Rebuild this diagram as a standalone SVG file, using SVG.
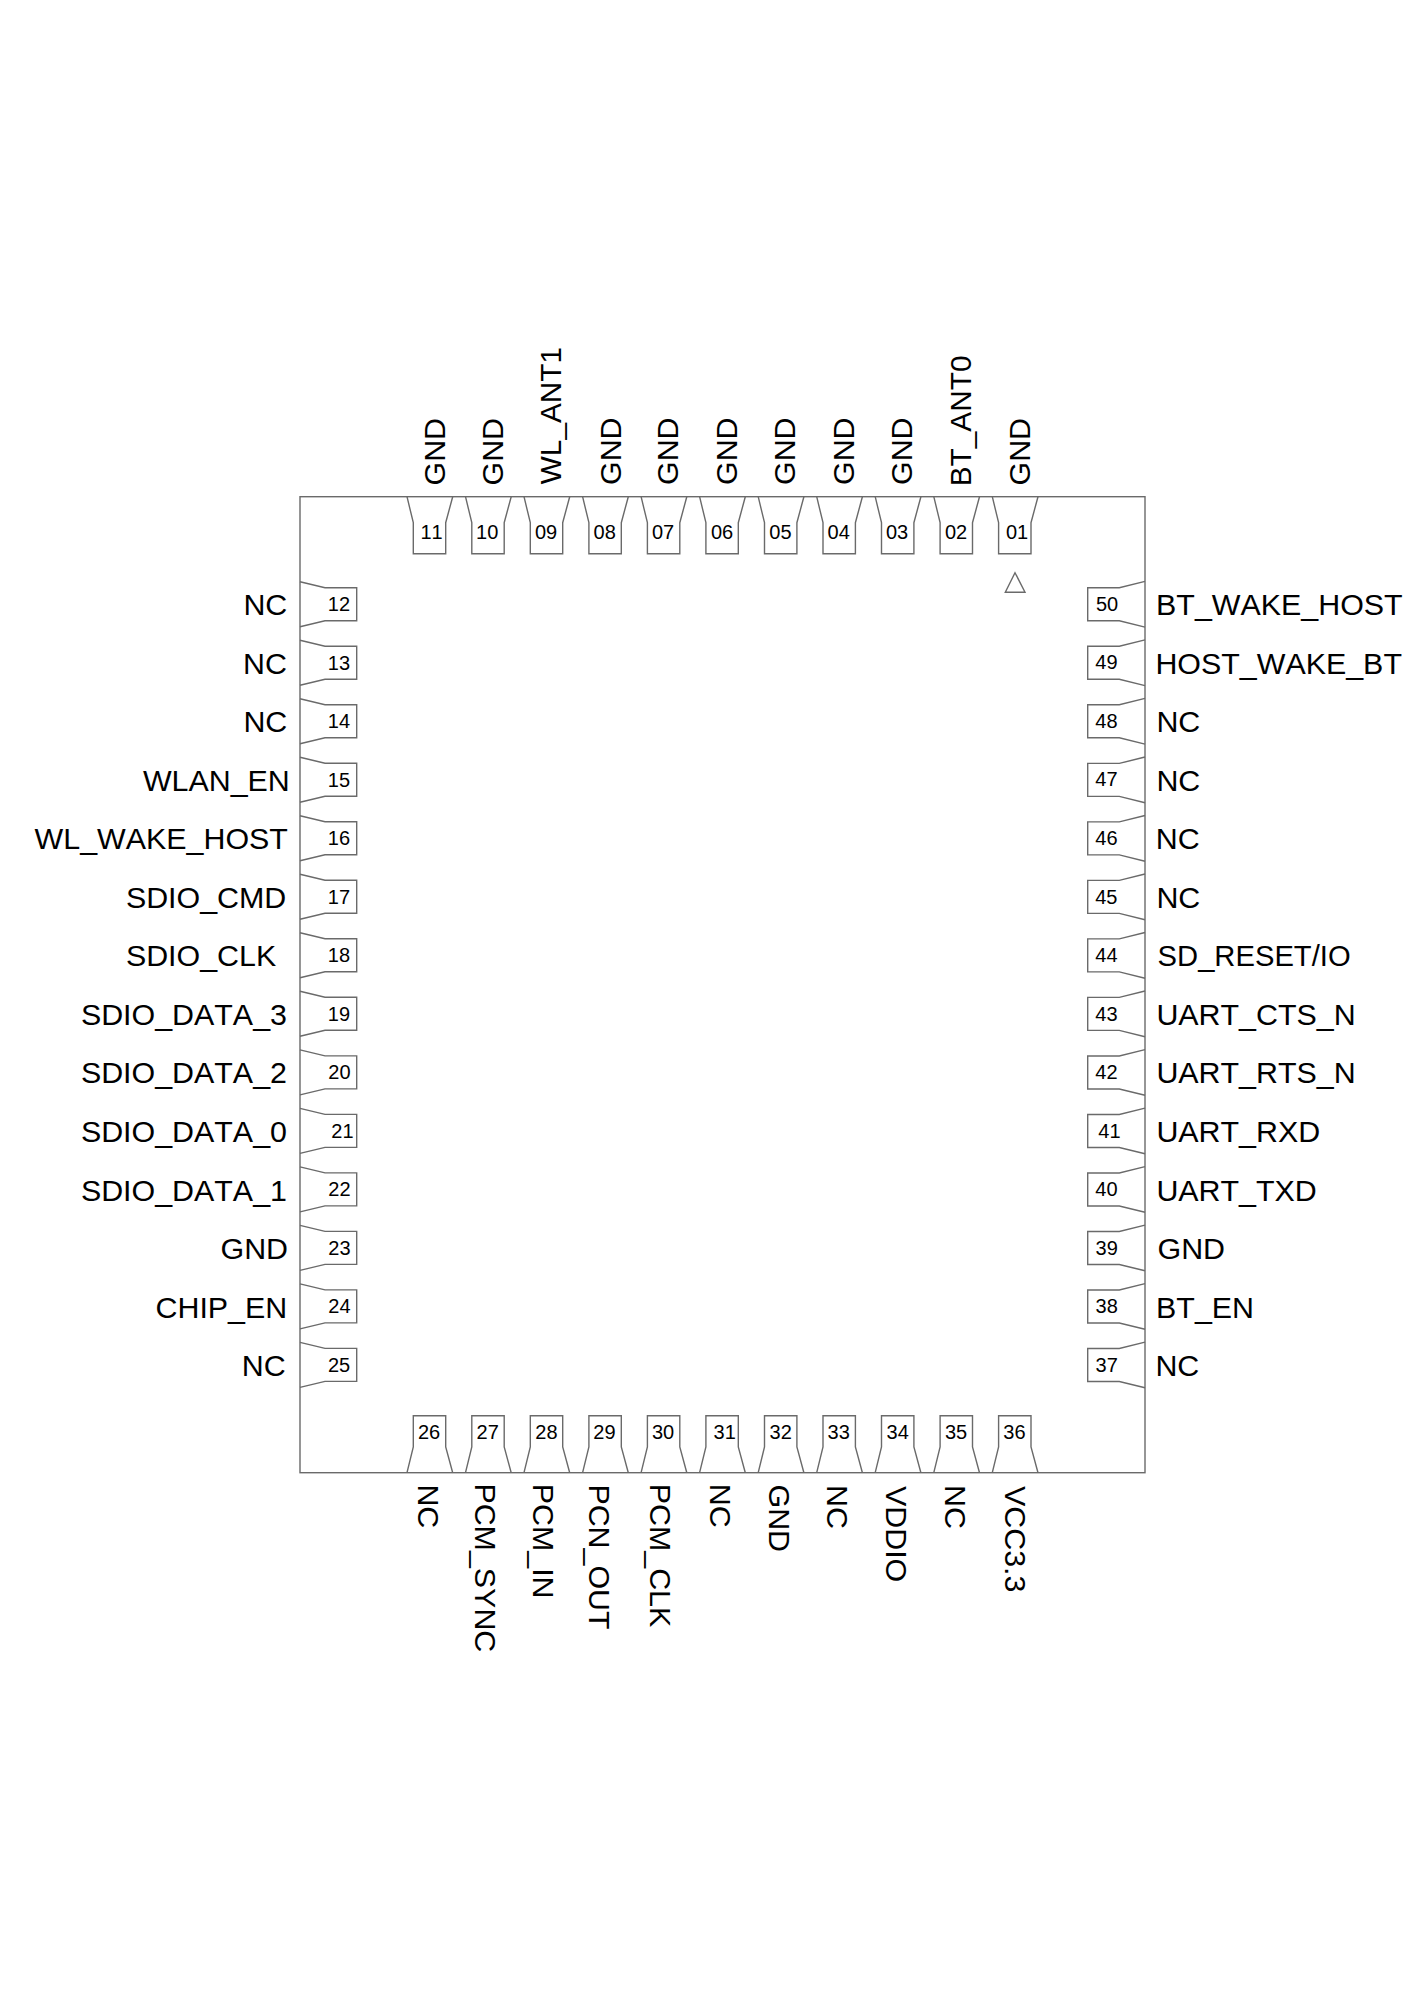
<svg xmlns="http://www.w3.org/2000/svg" xmlns:xlink="http://www.w3.org/1999/xlink" width="1415" height="2000" viewBox="0 0 1415 2000">
<style>
.o{fill:none;stroke:#6a6a6a;stroke-width:1.4}
text{font-family:"Liberation Sans",Arial,sans-serif;fill:#000;font-kerning:none}
.l{font-size:30.4px}
.t{font-size:29.8px}
.n{font-size:20px}
</style>
<defs>
<path id="pt" class="o" d="M0 0L6.3 26V57H38.7V26L45.7 0"/>
<path id="pb" class="o" d="M0 0L6.3 -25.7V-57H38.7V-25.7L45.7 0"/>
<path id="pl" class="o" d="M0 0L25 6H56.7V39H25L0 45"/>
<path id="pr" class="o" d="M0 -.3L-25.7 6.1H-57.3V39.1H-25.7L0 45.4"/>
</defs>
<rect width="1415" height="2000" fill="#fff"/>
<g id="package">
<rect class="o" x="300" y="496.7" width="845" height="976"/>
<path id="pin1-mark" class="o" d="M1015 572.7L1025 592.3H1005.3Z"/>
</g>
<g id="pin-01"><use href="#pt" x="992.3" y="496.7"/><text class="n" x="1006" y="539">01</text><text class="l" transform="translate(1030,485.5) rotate(-90)">GND</text></g>
<g id="pin-02"><use href="#pt" x="933.8" y="496.7"/><text class="n" x="945" y="539">02</text><text class="t" transform="translate(971,486.3) rotate(-90)">BT_ANT0</text></g>
<g id="pin-03"><use href="#pt" x="875.2" y="496.7"/><text class="n" x="886" y="539">03</text><text class="l" transform="translate(912,485) rotate(-90)">GND</text></g>
<g id="pin-04"><use href="#pt" x="816.7" y="496.7"/><text class="n" x="827.6" y="539">04</text><text class="l" transform="translate(854,485) rotate(-90)">GND</text></g>
<g id="pin-05"><use href="#pt" x="758.2" y="496.7"/><text class="n" x="769.3" y="539">05</text><text class="l" transform="translate(795.3,485) rotate(-90)">GND</text></g>
<g id="pin-06"><use href="#pt" x="699.6" y="496.7"/><text class="n" x="711" y="539">06</text><text class="l" transform="translate(736.7,485) rotate(-90)">GND</text></g>
<g id="pin-07"><use href="#pt" x="641.1" y="496.7"/><text class="n" x="652" y="539">07</text><text class="l" transform="translate(678,485) rotate(-90)">GND</text></g>
<g id="pin-08"><use href="#pt" x="582.6" y="496.7"/><text class="n" x="593.6" y="539">08</text><text class="l" transform="translate(620.7,485) rotate(-90)">GND</text></g>
<g id="pin-09"><use href="#pt" x="524" y="496.7"/><text class="n" x="535" y="539">09</text><text class="t" transform="translate(561.3,484.3) rotate(-90)">WL_ANT1</text></g>
<g id="pin-10"><use href="#pt" x="465.5" y="496.7"/><text class="n" x="476.1" y="539">10</text><text class="l" transform="translate(503,485.5) rotate(-90)">GND</text></g>
<g id="pin-11"><use href="#pt" x="407" y="496.7"/><text class="n" x="420.5" y="539">11</text><text class="l" transform="translate(444.7,485.5) rotate(-90)">GND</text></g>
<g id="pin-12"><use href="#pl" x="300" y="581.7"/><text class="n" x="327.8" y="611.3">12</text><text class="l" x="243.4" y="615">NC</text></g>
<g id="pin-13"><use href="#pl" x="300" y="640.2"/><text class="n" x="327.8" y="669.8">13</text><text class="l" x="243.1" y="673.6">NC</text></g>
<g id="pin-14"><use href="#pl" x="300" y="698.7"/><text class="n" x="327.8" y="728.3">14</text><text class="l" x="243.4" y="732.1">NC</text></g>
<g id="pin-15"><use href="#pl" x="300" y="757.3"/><text class="n" x="327.8" y="786.8">15</text><text class="l" x="142.9" y="790.7">WLAN_EN</text></g>
<g id="pin-16"><use href="#pl" x="300" y="815.8"/><text class="n" x="327.8" y="845.3">16</text><text class="l" x="34.6" y="849.2">WL_WAKE_HOST</text></g>
<g id="pin-17"><use href="#pl" x="300" y="874.3"/><text class="n" x="327.8" y="903.8">17</text><text class="l" x="125.9" y="907.8">SDIO_CMD</text></g>
<g id="pin-18"><use href="#pl" x="300" y="932.8"/><text class="n" x="327.8" y="962.3">18</text><text class="l" x="125.9" y="966.3">SDIO_CLK</text></g>
<g id="pin-19"><use href="#pl" x="300" y="991.3"/><text class="n" x="327.8" y="1020.8">19</text><text class="l" x="80.9" y="1024.9">SDIO_DATA_3</text></g>
<g id="pin-20"><use href="#pl" x="300" y="1049.9"/><text class="n" x="328.3" y="1079.3">20</text><text class="l" x="80.9" y="1083.4">SDIO_DATA_2</text></g>
<g id="pin-21"><use href="#pl" x="300" y="1108.4"/><text class="n" x="331.3" y="1137.8">21</text><text class="l" x="80.9" y="1142">SDIO_DATA_0</text></g>
<g id="pin-22"><use href="#pl" x="300" y="1166.9"/><text class="n" x="328.3" y="1196.3">22</text><text class="l" x="80.9" y="1200.5">SDIO_DATA_1</text></g>
<g id="pin-23"><use href="#pl" x="300" y="1225.4"/><text class="n" x="328.3" y="1254.8">23</text><text class="l" x="220.5" y="1259.1">GND</text></g>
<g id="pin-24"><use href="#pl" x="300" y="1283.9"/><text class="n" x="328.3" y="1313.3">24</text><text class="l" x="155.5" y="1317.6">CHIP_EN</text></g>
<g id="pin-25"><use href="#pl" x="300" y="1342.4"/><text class="n" x="328" y="1371.8">25</text><text class="l" x="241.7" y="1376.2">NC</text></g>
<g id="pin-26"><use href="#pb" x="407" y="1472.7"/><text class="n" x="418" y="1439.3">26</text><text class="l" transform="translate(418.3,1484.4) rotate(90)">NC</text></g>
<g id="pin-27"><use href="#pb" x="465.5" y="1472.7"/><text class="n" x="476.6" y="1439.3">27</text><text class="l" transform="translate(475,1483.4) rotate(90)">PCM_SYNC</text></g>
<g id="pin-28"><use href="#pb" x="524" y="1472.7"/><text class="n" x="535.3" y="1439.3">28</text><text class="l" transform="translate(533.3,1483.7) rotate(90)">PCM_IN</text></g>
<g id="pin-29"><use href="#pb" x="582.6" y="1472.7"/><text class="n" x="593.3" y="1439.3">29</text><text class="l" transform="translate(589,1484.4) rotate(90)">PCN_OUT</text></g>
<g id="pin-30"><use href="#pb" x="641.1" y="1472.7"/><text class="n" x="652" y="1439.3">30</text><text class="l" transform="translate(650,1483.7) rotate(90)">PCM_CLK</text></g>
<g id="pin-31"><use href="#pb" x="699.6" y="1472.7"/><text class="n" x="713.6" y="1439.3">31</text><text class="l" transform="translate(710,1483.7) rotate(90)">NC</text></g>
<g id="pin-32"><use href="#pb" x="758.2" y="1472.7"/><text class="n" x="769.6" y="1439.3">32</text><text class="l" transform="translate(769,1484.5) rotate(90)">GND</text></g>
<g id="pin-33"><use href="#pb" x="816.7" y="1472.7"/><text class="n" x="827.6" y="1439.3">33</text><text class="l" transform="translate(826.7,1485) rotate(90)">NC</text></g>
<g id="pin-34"><use href="#pb" x="875.2" y="1472.7"/><text class="n" x="886.6" y="1439.3">34</text><text class="l" transform="translate(885.7,1486) rotate(90)">VDDIO</text></g>
<g id="pin-35"><use href="#pb" x="933.8" y="1472.7"/><text class="n" x="945" y="1439.3">35</text><text class="l" transform="translate(945,1485) rotate(90)">NC</text></g>
<g id="pin-36"><use href="#pb" x="992.3" y="1472.7"/><text class="n" x="1003.3" y="1439.3">36</text><text class="l" transform="translate(1004.5,1486) rotate(90)">VCC3.3</text></g>
<g id="pin-37"><use href="#pr" x="1145" y="1342.4"/><text class="n" x="1095.6" y="1371.9">37</text><text class="l" x="1155.4" y="1376.2">NC</text></g>
<g id="pin-38"><use href="#pr" x="1145" y="1283.9"/><text class="n" x="1095.6" y="1313.3">38</text><text class="l" x="1156.1" y="1317.6">BT_EN</text></g>
<g id="pin-39"><use href="#pr" x="1145" y="1225.4"/><text class="n" x="1095.6" y="1254.8">39</text><text class="l" x="1157.5" y="1259.1">GND</text></g>
<g id="pin-40"><use href="#pr" x="1145" y="1166.9"/><text class="n" x="1095.3" y="1196.2">40</text><text class="l" x="1156.4" y="1200.5">UART_TXD</text></g>
<g id="pin-41"><use href="#pr" x="1145" y="1108.4"/><text class="n" x="1098.3" y="1137.7">41</text><text class="l" x="1156.4" y="1142">UART_RXD</text></g>
<g id="pin-42"><use href="#pr" x="1145" y="1049.9"/><text class="n" x="1095.3" y="1079.1">42</text><text class="l" x="1156.4" y="1083.4">UART_RTS_N</text></g>
<g id="pin-43"><use href="#pr" x="1145" y="991.3"/><text class="n" x="1095.3" y="1020.6">43</text><text class="l" x="1156.4" y="1024.9">UART_CTS_N</text></g>
<g id="pin-44"><use href="#pr" x="1145" y="932.8"/><text class="n" x="1095.3" y="962">44</text><text class="l" x="1157.6" y="966.3" textLength="193" lengthAdjust="spacingAndGlyphs">SD_RESET/IO</text></g>
<g id="pin-45"><use href="#pr" x="1145" y="874.3"/><text class="n" x="1095.2" y="903.5">45</text><text class="l" x="1156.4" y="907.8">NC</text></g>
<g id="pin-46"><use href="#pr" x="1145" y="815.8"/><text class="n" x="1095.3" y="844.9">46</text><text class="l" x="1155.7" y="849.2">NC</text></g>
<g id="pin-47"><use href="#pr" x="1145" y="757.3"/><text class="n" x="1095.3" y="786.4">47</text><text class="l" x="1156.4" y="790.7">NC</text></g>
<g id="pin-48"><use href="#pr" x="1145" y="698.7"/><text class="n" x="1095.3" y="727.8">48</text><text class="l" x="1156.4" y="732.1">NC</text></g>
<g id="pin-49"><use href="#pr" x="1145" y="640.2"/><text class="n" x="1095.3" y="669.3">49</text><text class="l" x="1155.4" y="673.6">HOST_WAKE_BT</text></g>
<g id="pin-50"><use href="#pr" x="1145" y="581.7"/><text class="n" x="1096" y="610.7">50</text><text class="l" x="1156.1" y="615">BT_WAKE_HOST</text></g>
</svg>
